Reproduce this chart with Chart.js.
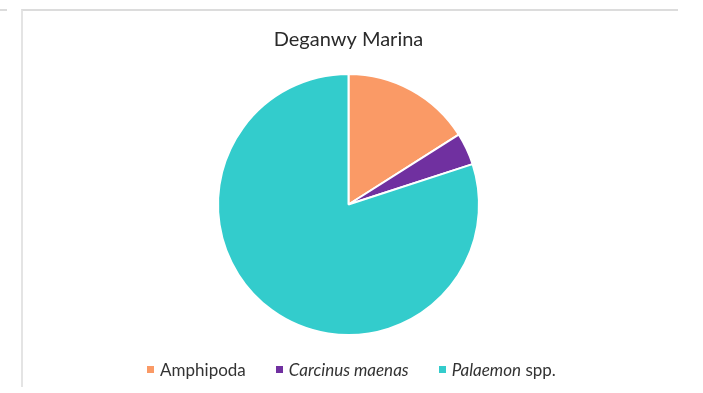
<!DOCTYPE html>
<html>
<head>
<meta charset="utf-8">
<script src="https://cdn.jsdelivr.net/npm/chart.js@4"></script>
<style>
    html, body { margin: 0; padding: 0; background: #fff; }
    #wrap { position: relative; width: 703px; height: 393px; overflow: hidden; }
    #frame { position: absolute; left: 21px; top: 9px; width: 655px; height: 376px;
             border-top: 2px solid #dcdcdc; border-left: 2px solid #e4e4e4; }
    #stub { position: absolute; left: 0; top: 9px; width: 7px; height: 2px; background: #dcdcdc; }
    #legend { position: absolute; left: 0; top: 359px; width: 703px; display: flex; justify-content: center;
              font: 17px Lato, sans-serif; color: #333; }
    .item { display: flex; align-items: center; margin: 0 15px; white-space: pre; }
    .box { width: 7px; height: 7px; margin-right: 6px; }
</style>
</head>
<body>
<div id="wrap">
    <div id="stub"></div>
    <div id="frame"></div>
    <canvas id="chart" width="703" height="393" style="position:absolute;left:0;top:0"></canvas>
    <div id="legend"></div>
</div>
<script>
const chartTitle = 'Deganwy Marina';
const categories = ['Amphipoda', 'Carcinus maenas', 'Palaemon spp.'];
const italicParts = ['', 'Carcinus maenas', 'Palaemon'];
const counts = [16, 4, 80];
const sliceColors = ['#fa9a66', '#7030a0', '#33cccc'];

// legend is built as html so the species names can be italic
const htmlLegend = {
    id: 'htmlLegend',
    afterUpdate(chart) {
        const box = document.getElementById('legend');
        box.innerHTML = '';
        chart.data.labels.forEach((label, i) => {
            const item = document.createElement('div');
            item.className = 'item';
            const swatch = document.createElement('span');
            swatch.className = 'box';
            swatch.style.background = chart.data.datasets[0].backgroundColor[i];
            item.appendChild(swatch);
            const text = document.createElement('span');
            const it = italicParts[i];
            if (it && label.startsWith(it)) {
                const em = document.createElement('i');
                em.textContent = it;
                text.appendChild(em);
                text.appendChild(document.createTextNode(label.slice(it.length)));
            } else {
                text.textContent = label;
            }
            item.appendChild(text);
            box.appendChild(item);
        });
    }
};

new Chart(document.getElementById('chart'), {
    type: 'pie',
    data: {
        labels: categories,
        datasets: [{
            data: counts,
            backgroundColor: sliceColors,
            borderColor: '#ffffff',
            borderWidth: 2
        }]
    },
    options: {
        responsive: false,
        animation: false,
        devicePixelRatio: 1,
        layout: { padding: { left: 0, right: 6, top: 0, bottom: 57 } },
        plugins: {
            legend: { display: false },
            tooltip: { enabled: false },
            title: {
                display: true,
                text: chartTitle,
                color: '#2b2b2b',
                font: { family: 'Lato', size: 20, weight: 'normal' },
                padding: { top: 28, bottom: 21 }
            }
        }
    },
    plugins: [htmlLegend]
});
</script>
</body>
</html>
